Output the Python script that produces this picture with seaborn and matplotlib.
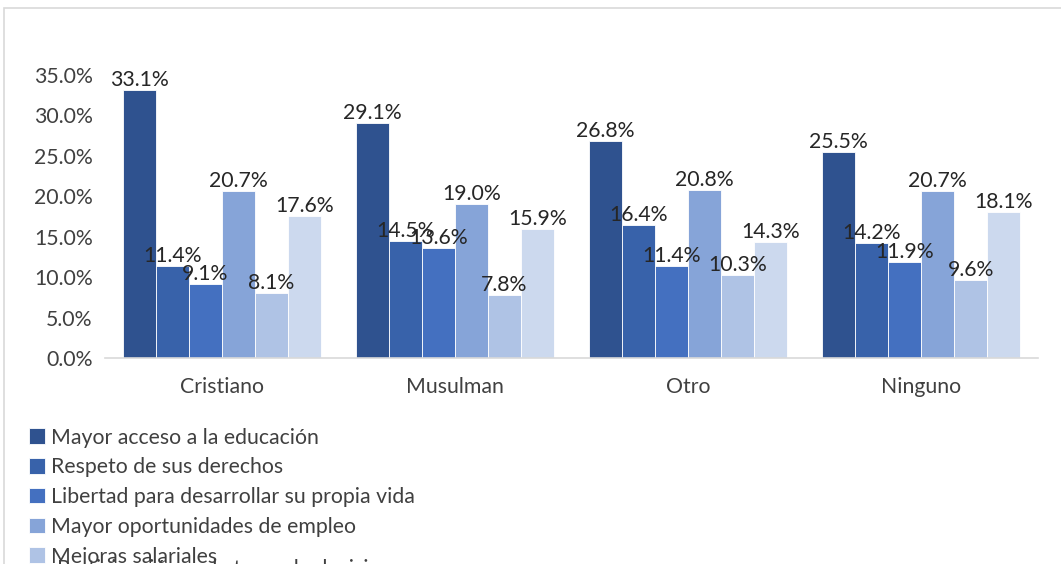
import matplotlib
matplotlib.use("Agg")
import matplotlib.pyplot as plt
import seaborn as sns
import pandas as pd
from matplotlib.ticker import FuncFormatter, MultipleLocator
from matplotlib.patches import Rectangle

categories = ["Cristiano", "Musulman", "Otro", "Ninguno"]
series_names = [
    "Mayor acceso a la educación",
    "Respeto de sus derechos",
    "Libertad para desarrollar su propia vida",
    "Mayor oportunidades de empleo",
    "Mejoras salariales",
    "Participación en la toma de decisiones",
]
educacion = [33.1, 29.1, 26.8, 25.5]
derechos = [11.4, 14.5, 16.4, 14.2]
libertad = [9.1, 13.6, 11.4, 11.9]
empleo = [20.7, 19.0, 20.8, 20.7]
salariales = [8.1, 7.8, 10.3, 9.6]
decisiones = [17.6, 15.9, 14.3, 18.1]
colors = ["#2F528F", "#3862AA", "#4470C0", "#86A4D8", "#AFC3E5", "#CCD9EE"]

all_series = [educacion, derechos, libertad, empleo, salariales, decisiones]
rows = []
for name, vals in zip(series_names, all_series):
    for cat, v in zip(categories, vals):
        rows.append({"cat": cat, "serie": name, "val": v})
df = pd.DataFrame(rows)

sns.set_theme(style="white")
plt.rcParams["font.family"] = ["Lato", "DejaVu Sans"]
FS = 15.3

fig = plt.figure(figsize=(10.61, 5.64), dpi=100)
ax = fig.add_axes([0.099, 0.3652, 0.879, 0.5018])

sns.barplot(data=df, x="cat", y="val", hue="serie", order=categories,
            hue_order=series_names, palette=colors, width=0.85, ax=ax,
            edgecolor="white", linewidth=0.6, saturation=1, legend=True)

ax.set_ylim(0, 35)
ax.set_xlim(-0.5, 3.5)
ax.yaxis.set_major_locator(MultipleLocator(5))
ax.yaxis.set_major_formatter(FuncFormatter(lambda v, p: f"{v:.1f}%"))
ax.tick_params(axis="y", length=0, pad=9, labelsize=FS, labelcolor="#404040")
ax.tick_params(axis="x", length=0, pad=14, labelsize=FS, labelcolor="#404040")
ax.set_xlabel("")
ax.set_ylabel("")
for s in ["top", "right", "left"]:
    ax.spines[s].set_visible(False)
ax.spines["bottom"].set_color("#D9D9D9")
ax.spines["bottom"].set_linewidth(1.2)

for cont in ax.containers:
    ax.bar_label(cont, fmt="%.1f%%", padding=0, fontsize=FS, color="#262626")

handles, labels = ax.get_legend_handles_labels()
ax.get_legend().remove()
fig.legend(handles[:5], labels[:5], loc="upper left",
           bbox_to_anchor=(0.027, 0.242), frameon=False, fontsize=FS,
           handlelength=0.75, handleheight=0.75, handletextpad=0.3,
           labelspacing=0.46, borderaxespad=0, borderpad=0,
           labelcolor="#404040")
fig.text(0.054, -0.008, series_names[5], fontsize=FS, color="#404040",
         va="center", ha="left")

# chart border
fig.add_artist(Rectangle((0.004, -0.1), 1.2, 1.086, transform=fig.transFigure,
                         fill=False, edgecolor="#D9D9D9", linewidth=1.2))

fig.savefig("out.png", dpi=100)
